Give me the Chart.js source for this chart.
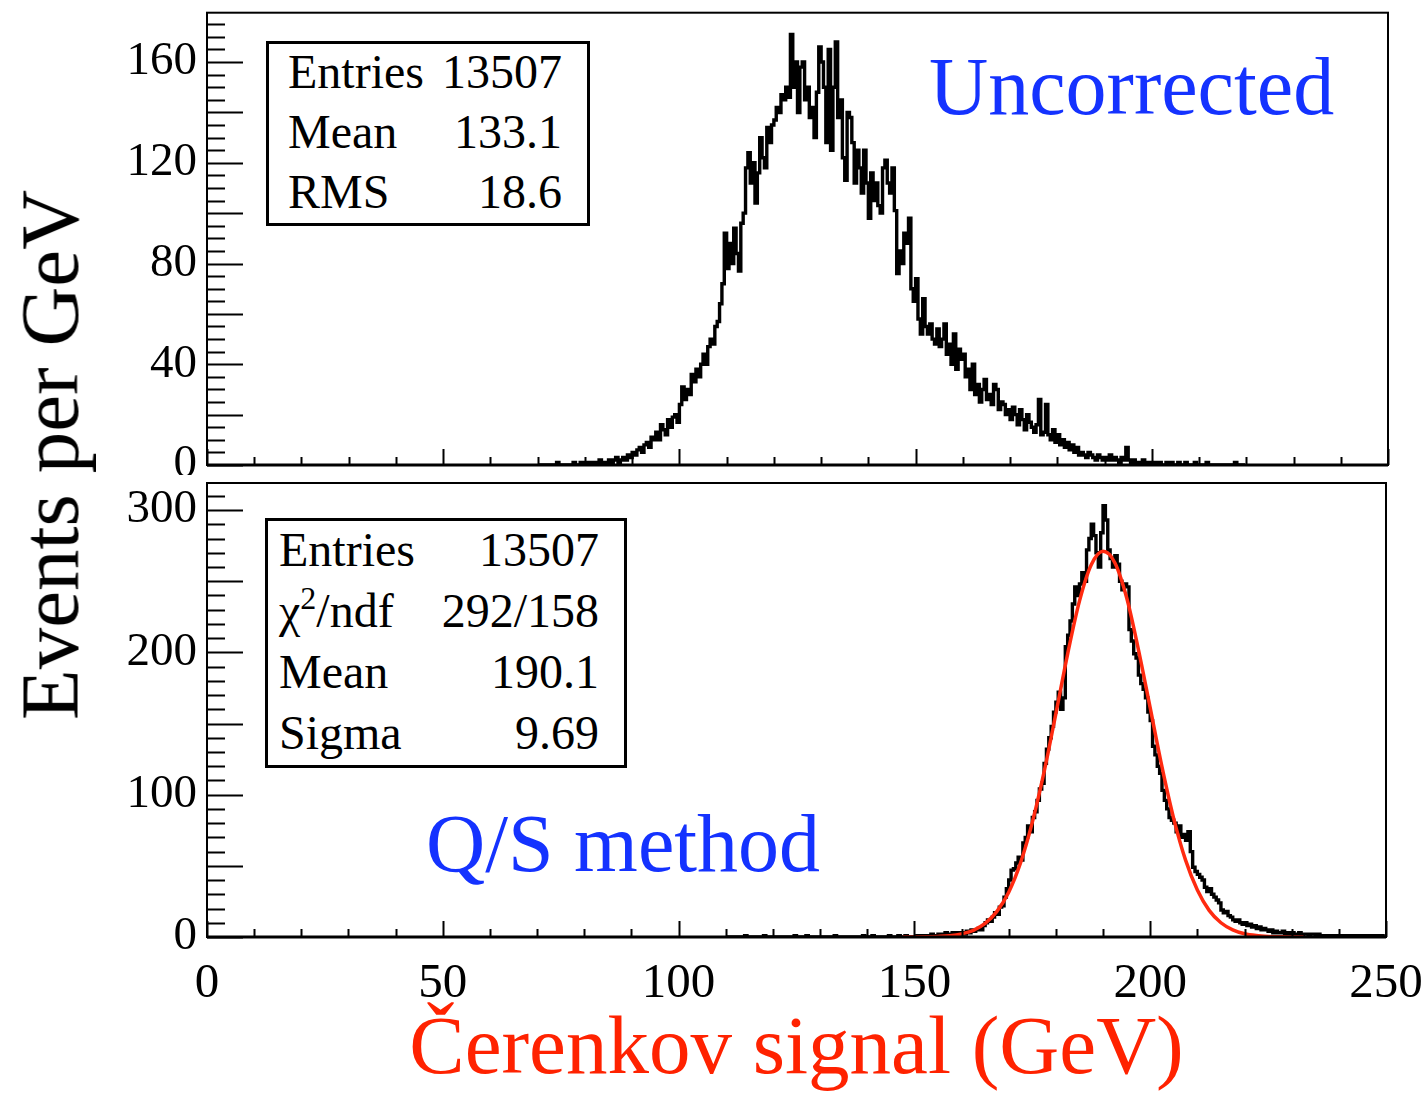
<!DOCTYPE html>
<html>
<head>
<meta charset="utf-8">
<script src="https://cdn.jsdelivr.net/npm/chart.js@4.4.1/dist/chart.umd.min.js"></script>
<style>
  body { margin: 0; background: #fff; }
  #page { position: relative; width: 1425px; height: 1101px; overflow: hidden; background: #fff; font-family: "Liberation Serif", "DejaVu Serif", serif; }
  .wrap { position: absolute; left: 0; width: 1425px; }
  .stats { position: absolute; border: 3px solid #000; background: #fff; box-sizing: border-box; font-size: 48px; line-height: 60px; }
  .stats .row { display: flex; justify-content: space-between; white-space: nowrap; }
  .big { position: absolute; color: #1432ff; font-size: 82px; line-height: 1; white-space: nowrap; }
  #ytitle { position: absolute; left: 50px; top: 455px; transform: translate(-50%, -50%) rotate(-90deg); font-size: 83px; line-height: 1; white-space: nowrap; color: #000; }
</style>
</head>
<body>
<div id="page">
  <div class="wrap" style="top:0;height:475px"><canvas id="topChart"></canvas></div>
  <div class="wrap" style="top:475px;height:626px"><canvas id="bottomChart"></canvas></div>

  <div class="stats" style="left:266px;top:41px;width:324px;height:185px;padding:0 25px 0 19px">
    <div class="row" style="margin-top:-2px"><span>Entries</span><span>13507</span></div>
    <div class="row"><span>Mean</span><span>133.1</span></div>
    <div class="row"><span>RMS</span><span>18.6</span></div>
  </div>
  <div class="stats" style="left:265px;top:518px;width:362px;height:250px;padding:0 25px 0 11px;line-height:61px">
    <div class="row" style="margin-top:-2px"><span>Entries</span><span>13507</span></div>
    <div class="row"><span>&chi;<sup style="font-size:32px;vertical-align:18px;line-height:0">2</sup>/ndf</span><span>292/158</span></div>
    <div class="row"><span>Mean</span><span>190.1</span></div>
    <div class="row"><span>Sigma</span><span>9.69</span></div>
  </div>

  <div class="big" style="left:929px;top:46px">Uncorrected</div>
  <div class="big" style="left:426px;top:803px">Q/S method</div>
  <div id="ytitle">Events per GeV</div>
</div>

<script>
// histogram bins are 0.5 GeV wide
const binWidth = 0.5;
const xTickLabels = [0, 50, 100, 150, 200, 250];
const topYTicks = [0, 40, 80, 120, 160];
const bottomYTicks = [0, 100, 200, 300];

// uncorrected signal, first bin starts at 70 GeV
const topStart = 70;
const topCounts = [
  0,0,0,0,0,0,0,0,1,0,
  0,0,0,0,0,1,0,0,1,0,
  1,0,1,1,0,1,2,1,0,1,
  2,1,2,3,1,2,3,2,4,3,
  5,4,6,7,5,8,9,7,11,10,
  13,10,16,14,12,18,15,19,20,17,
  24,31,26,30,28,36,33,38,35,40,
  44,40,47,50,48,55,57,64,72,92,
  78,88,80,94,84,77,96,100,118,124,
  112,120,104,116,130,122,118,134,128,135,
  137,142,140,147,145,150,146,171,150,160,
  140,158,160,145,150,138,142,130,148,166,
  160,150,128,165,125,150,168,138,145,122,
  113,140,138,128,112,125,118,108,125,112,
  98,116,105,112,103,100,118,121,112,108,
  118,101,76,85,80,92,88,98,70,65,
  74,58,52,66,55,52,56,50,48,54,
  47,50,56,44,48,40,52,38,46,42,
  44,35,38,30,40,28,32,25,30,34,
  26,28,24,32,30,22,25,24,20,22,
  18,23,20,16,22,18,14,20,17,15,
  13,16,26,12,13,24,12,10,14,9,
  12,8,10,7,9,6,8,5,7,4,
  5,4,3,5,4,3,2,4,3,2,
  3,2,4,2,3,2,1,3,2,7,
  2,1,2,0,1,1,2,1,0,1,
  1,0,1,1,0,0,1,0,1,0,
  0,1,0,0,1,0,0,0,1,0,
  0,0,0,1,0,0,0,0,0,0,
  0,0,0,0,0,1,0,0,0,0
];

// Q/S corrected signal, first bin starts at 110 GeV
const bottomStart = 110;
const bottomCounts = [
  0,0,0,0,0,0,0,0,1,0,
  0,0,0,0,0,0,1,0,0,0,
  0,0,0,0,0,0,0,0,0,1,
  0,0,0,0,1,0,0,0,0,0,
  0,0,0,0,0,0,1,0,0,0,
  0,0,0,0,0,0,0,0,1,0,
  0,0,1,0,0,0,0,0,0,1,
  0,0,0,1,0,0,1,0,0,0,
  0,1,0,1,1,0,1,2,1,1,
  2,1,2,3,1,2,3,2,3,2,
  3,2,4,3,5,4,5,6,5,8,
  10,12,11,14,17,16,21,22,28,34,
  40,47,48,52,56,54,66,70,78,74,
  84,88,96,104,108,122,132,140,148,158,
  165,172,160,168,204,212,222,234,246,240,
  248,256,250,272,280,290,282,270,260,284,
  303,293,272,266,260,268,262,250,244,248,
  246,216,208,199,196,184,178,174,168,158,
  152,134,128,120,115,103,96,90,84,82,
  80,74,78,70,72,68,74,60,49,46,
  44,42,40,35,32,34,30,28,26,24,
  19,17,18,15,14,12,11,12,10,9,
  10,8,9,7,8,6,7,5,6,5,
  4,5,3,4,3,3,4,2,3,2,
  3,2,2,3,1,2,2,1,2,2,
  1,2,1,1,0,1,1,0,1,1,
  1,0,1,1,0,1,0,1,1,0,
  1,0,1,0,1,1,0,1,0,1
];

// gaussian fit curve as drawn (red)
const fitX = [147.5,150,152.5,155,157.5,160,162.5,165,167.5,170,172.5,175,177.5,180,182.5,185,187.5,190,
  192.5,195,197.5,200,202.5,205,207.5,210,212.5,215,217.5,220,222.5,225,227.5,230,232.5];
const fitY = [0,0.05,0.15,0.4,0.9,2.2,4.7,9.5,18,31.5,52,80.5,116,157,199,236,261.5,271,
  263,238.5,202,161,119.5,83,54,33,18.7,10,5,2.3,1,0.4,0.16,0.05,0];

function histPoints(start, counts) {
  return counts.map((c, i) => ({ x: start + binWidth * (i + 0.5), y: c }));
}

// ROOT style frame with ticks pointing inwards
const rootFrame = {
  id: 'rootFrame',
  afterDatasetsDraw(chart, args, opts) {
    const { ctx, chartArea: a, scales: { x, y } } = chart;
    ctx.save();
    ctx.strokeStyle = '#000';
    ctx.lineWidth = 2;
    ctx.strokeRect(a.left, a.top, a.right - a.left, a.bottom - a.top);
    ctx.beginPath();
    for (let v = 0; v <= 250; v += 10) {
      const px = Math.round(x.getPixelForValue(v)) + 0.5;
      const len = v % 50 === 0 ? 16 : 8;
      ctx.moveTo(px, a.bottom);
      ctx.lineTo(px, a.bottom - len);
    }
    for (let v = 0; v <= y.max; v += opts.minor) {
      const py = Math.round(y.getPixelForValue(v)) + 0.5;
      const len = v % opts.major === 0 ? 36 : 18;
      ctx.moveTo(a.left, py);
      ctx.lineTo(a.left + len, py);
    }
    ctx.stroke();
    ctx.lineWidth = 3;
    ctx.beginPath();
    ctx.moveTo(a.left, a.bottom);
    ctx.lineTo(a.right, a.bottom);
    ctx.stroke();
    ctx.restore();
  }
};

const tickFont = { family: 'Liberation Serif', size: 47 };

function noOverhang(s) {
  s.paddingTop = 0; s.paddingBottom = 0; s.paddingLeft = 0; s.paddingRight = 0;
}

function yScale(max, ticks) {
  return {
    type: 'linear', min: 0, max: max,
    grid: { display: false, drawTicks: false },
    border: { display: false },
    afterBuildTicks: s => { s.ticks = ticks.map(v => ({ value: v })); },
    afterFit: s => { s.width = 207; noOverhang(s); },
    ticks: { color: '#000', font: tickFont, padding: 10 }
  };
}

function histDataset(points) {
  return {
    type: 'line', data: points, stepped: 'middle',
    borderColor: '#000', borderWidth: 3.4, pointRadius: 0,
    fill: false, order: 1
  };
}

Chart.register(rootFrame);

new Chart(document.getElementById('topChart'), {
  type: 'line',
  data: { datasets: [histDataset(histPoints(topStart, topCounts))] },
  options: {
    responsive: true, maintainAspectRatio: false, animation: false,
    layout: { padding: { top: 12.7, right: 37, left: 0, bottom: 0 } },
    plugins: { legend: { display: false }, tooltip: { enabled: false }, rootFrame: { minor: 5, major: 20 } },
    scales: {
      x: {
        type: 'linear', min: 0, max: 250,
        grid: { display: false, drawTicks: false }, border: { display: false },
        ticks: { display: false },
        afterFit: s => { s.height = 10; noOverhang(s); }
      },
      y: yScale(179.6, topYTicks)
    }
  }
});

new Chart(document.getElementById('bottomChart'), {
  type: 'line',
  data: {
    datasets: [
      {
        type: 'line', data: fitX.map((v, i) => ({ x: v, y: fitY[i] })),
        borderColor: '#ff2a10', borderWidth: 3.5, pointRadius: 0,
        cubicInterpolationMode: 'monotone', fill: false, order: 0
      },
      histDataset(histPoints(bottomStart, bottomCounts))
    ]
  },
  options: {
    responsive: true, maintainAspectRatio: false, animation: false,
    layout: { padding: { top: 8, right: 39, left: 0, bottom: 0 } },
    plugins: { legend: { display: false }, tooltip: { enabled: false }, rootFrame: { minor: 10, major: 50 } },
    scales: {
      x: {
        type: 'linear', min: 0, max: 250,
        grid: { display: false, drawTicks: false }, border: { display: false },
        afterBuildTicks: s => { s.ticks = xTickLabels.map(v => ({ value: v })); },
        afterFit: s => { s.height = 164; noOverhang(s); },
        ticks: { color: '#000', font: { family: 'Liberation Serif', size: 49 }, padding: 18, maxRotation: 0, autoSkip: false },
        title: {
          display: true, text: 'Čerenkov signal (GeV)', color: '#ff2200',
          font: { family: 'Liberation Serif', size: 83 }, padding: { top: 0, bottom: 0 }
        }
      },
      y: yScale(319, bottomYTicks)
    }
  }
});
</script>
</body>
</html>
